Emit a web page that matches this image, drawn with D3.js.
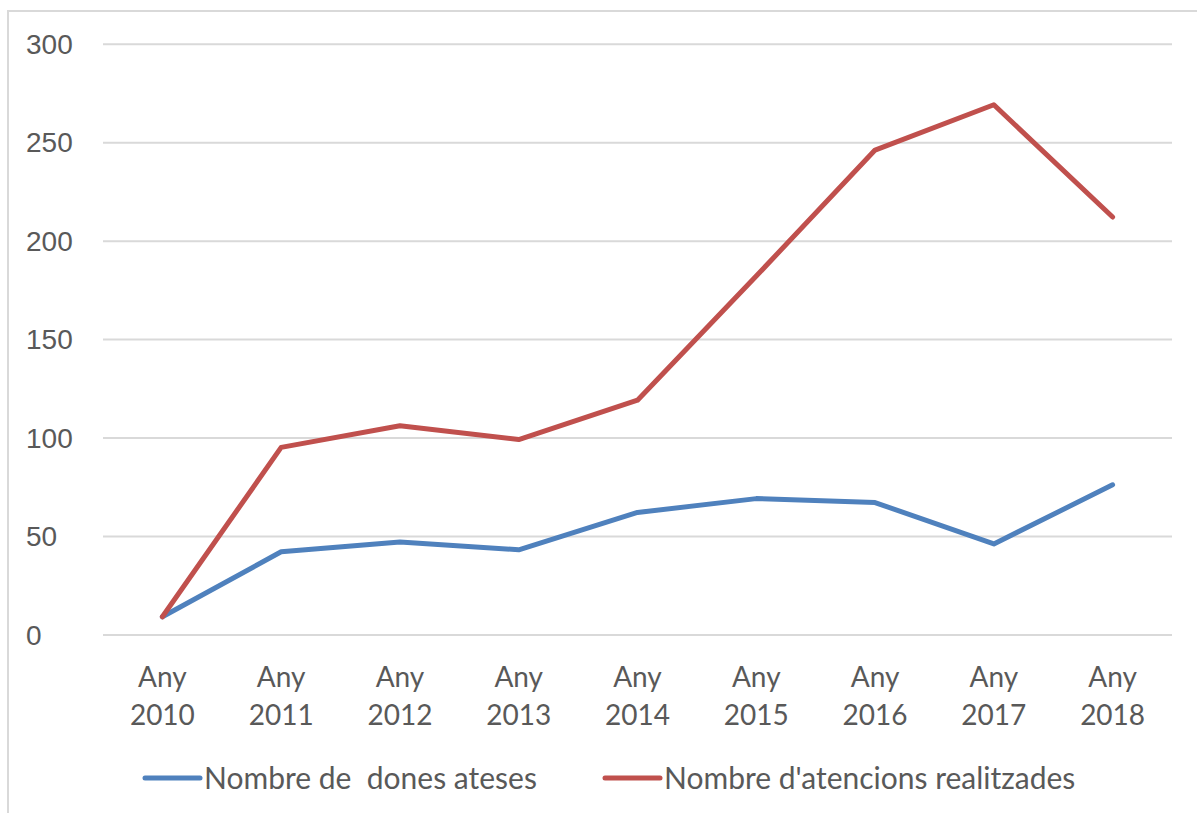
<!DOCTYPE html>
<html>
<head>
<meta charset="utf-8">
<script src="https://cdn.jsdelivr.net/npm/d3@7"></script>
<style>
    body { margin: 0; background: #fff; }
    svg { display: block; font-family: Lato, 'Open Sans', sans-serif; }
</style>
</head>
<body>
<svg id="chart" width="1197" height="813"></svg>
<script>
// Data //
const years = ['2010', '2011', '2012', '2013', '2014', '2015', '2016', '2017', '2018']
const dones = [9, 42, 47, 43, 62, 69, 67, 46, 76]
const atencions = [9, 95, 106, 99, 119, 182, 246, 269, 212]
const yTicks = [0, 50, 100, 150, 200, 250, 300]
const seriesNames = ['Nombre de  dones ateses', "Nombre d'atencions realitzades"]
const seriesColors = ['#4f81bd', '#c0504d']

// Layout //
const plot = { left: 103, right: 1172, top: 43.7, bottom: 634.5 }
const textColor = '#595959'

const svg = d3.select('#chart')

// chart frame (only top and left edges show in the picture)
svg.append('path')
    .attr('d', 'M8,813 V11 H1197')
    .attr('fill', 'none')
    .attr('stroke', '#d9d9d9')
    .attr('stroke-width', 2)

// Scales //
const x = d3.scalePoint()
    .domain(years)
    .range([plot.left, plot.right])
    .padding(0.5)

const y = d3.scaleLinear()
    .domain([0, 300])
    .range([plot.bottom, plot.top])

// Grid + y axis //
const yAxis = d3.axisLeft(y)
    .tickValues(yTicks)
    .tickSize(-(plot.right - plot.left))

svg.append('g')
    .attr('transform', `translate(${plot.left},0)`)
    .call(yAxis)
    .call(g => g.select('.domain').remove())
    .call(g => g.selectAll('.tick line').attr('stroke', '#d9d9d9').attr('stroke-width', 2))
    .call(g => g.selectAll('.tick text')
        .attr('fill', textColor)
        .attr('font-size', 28)
        .attr('text-anchor', 'start')
        .attr('x', 26 - plot.left)
        .attr('dy', '0.35em'))

// x axis labels, two lines each //
const xLabels = svg.append('g')
    .selectAll('text')
    .data(years)
    .join('text')
        .attr('x', d => x(d))
        .attr('fill', textColor)
        .attr('font-size', 28)
        .attr('text-anchor', 'middle')

xLabels.append('tspan').attr('x', d => x(d)).attr('y', 687).text('Any')
xLabels.append('tspan').attr('x', d => x(d)).attr('y', 725).text(d => d)

// Lines //
const line = d3.line()
    .x((d, i) => x(years[i]))
    .y(d => y(d))

svg.selectAll('.series')
    .data([dones, atencions])
    .join('path')
        .attr('class', 'series')
        .attr('d', line)
        .attr('fill', 'none')
        .attr('stroke', (d, i) => seriesColors[i])
        .attr('stroke-width', 5)
        .attr('stroke-linejoin', 'round')
        .attr('stroke-linecap', 'round')

// Legend //
const legendX = [145, 605]
const legend = svg.append('g')
    .selectAll('g')
    .data(seriesNames)
    .join('g')
        .attr('transform', (d, i) => `translate(${legendX[i]},778)`)

legend.append('line')
    .attr('x1', 0)
    .attr('x2', 55)
    .attr('stroke', (d, i) => seriesColors[i])
    .attr('stroke-width', 5)
    .attr('stroke-linecap', 'round')

legend.append('text')
    .attr('x', 59)
    .attr('dy', '0.35em')
    .attr('fill', textColor)
    .attr('font-size', 30)
    .style('white-space', 'pre')
    .text(d => d)
</script>
</body>
</html>
